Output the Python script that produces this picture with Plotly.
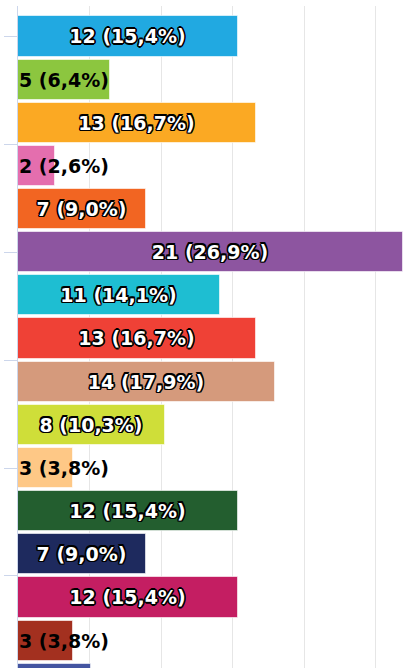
import plotly.graph_objects as go

# Responses per option and the total they are shared out of
counts = [12, 5, 13, 2, 7, 21, 11, 13, 14, 8, 3, 12, 7, 12, 3, 4]
total = 78
bar_colors = [
    "#21A9E1", "#8CC63F", "#FBA923", "#E46EAE", "#F26522", "#8D55A0",
    "#1EBED2", "#EF4136", "#D59A7C", "#CFDE39", "#FEC886", "#235E2F",
    "#1E2A5E", "#C41E62", "#A3301F", "#4455A1",
]

positions = list(range(len(counts)))
shares = [100 * c / total for c in counts]
labels = [f"{c} ({s:.1f}%)".replace(".", ",") for c, s in zip(counts, shares)]
# wide bars carry a centred white label, narrow ones a dark label from the base
fits = [c >= 6 for c in counts]

FONT = "DejaVu Sans"
OUTLINE = ("-1.2px -1.2px 0 #000, 1.2px -1.2px 0 #000, -1.2px 1.2px 0 #000, 1.2px 1.2px 0 #000, "
           "0 -1.6px 0 #000, 0 1.6px 0 #000, -1.6px 0 0 #000, 1.6px 0 0 #000")

fig = go.Figure()
fig.add_trace(go.Bar(
    x=shares,
    y=positions,
    orientation="h",
    width=0.93,
    marker=dict(color=bar_colors, line=dict(color="rgba(255,255,255,0.6)", width=1)),
    text=[lab if f else "" for lab, f in zip(labels, fits)],
    textposition="inside",
    insidetextanchor="middle",
    textangle=0,
    constraintext="none",
    textfont=dict(family=FONT, size=19, color="#ffffff", weight="bold", shadow=OUTLINE),
    hoverinfo="skip",
))

for pos, lab, f in zip(positions, labels, fits):
    if not f:
        fig.add_annotation(
            x=0, y=pos, xref="x", yref="y",
            text=lab, showarrow=False,
            xanchor="left", yanchor="middle", xshift=-1,
            font=dict(family=FONT, size=19, color="#000000", weight="bold"),
        )

fig.update_layout(
    width=403,
    height=668,
    margin=dict(l=18, r=0, t=6, b=0, pad=0),
    paper_bgcolor="#ffffff",
    plot_bgcolor="#ffffff",
    showlegend=False,
    bargap=0,
    xaxis=dict(
        range=[0, 26.92],
        tickmode="linear", tick0=0, dtick=5,
        showticklabels=False, ticks="",
        showgrid=True, gridcolor="#e6e6e6", gridwidth=1,
        zeroline=False, showline=False,
    ),
    yaxis=dict(
        range=[14.635, -0.707],
        tickmode="linear", tick0=0, dtick=2.5,
        showticklabels=False,
        ticks="outside", ticklen=13, tickwidth=1, tickcolor="#ccd6eb",
        showline=True, linecolor="#ccd6eb", linewidth=1,
        showgrid=False, zeroline=False,
    ),
)

fig.write_html("out.html", config={"displayModeBar": False})
